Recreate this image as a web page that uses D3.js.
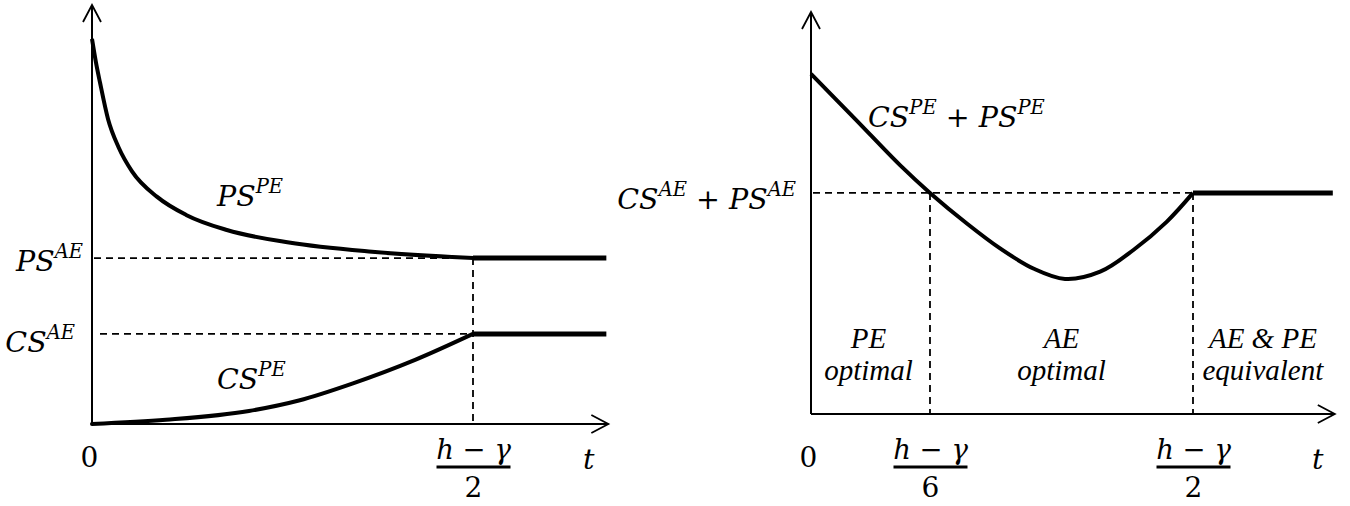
<!DOCTYPE html>
<html>
<head>
<meta charset="utf-8">
<script src="https://cdn.jsdelivr.net/npm/d3@7"></script>
<style>
  html, body { margin: 0; padding: 0; background: #fff; }
  svg { display: block; }
</style>
</head>
<body>
<svg id="chart" width="1350" height="506"></svg>
<script>
// ---- Left panel: producer surplus (PS) and consumer surplus (CS) under PE, vs. t
// t measured in units of (h - γ)/2; surplus in arbitrary units (0-100)
const tPS  = [0, 0.010, 0.021, 0.042, 0.070, 0.105, 0.171, 0.247, 0.354, 0.517, 0.735, 1.0];
const psPE = [91.9, 86.5, 81.5, 72.8, 66.0, 60.3, 54.2, 49.9, 46.3, 43.3, 41.1, 39.6];
const tCS  = [0, 0.194, 0.412, 0.543, 0.685, 0.848, 1.0];
const csPE = [0, 1.0, 3.1, 5.6, 9.7, 15.3, 21.5];
const psAE = 39.6;
const csAE = 21.5;
const tMaxLeft = 1.35;
const leftTicks = [
  { t: 0, label: "0" },
  { t: 1, num: "h − γ", den: "2" }
];

// ---- Right panel: total surplus CS + PS under PE vs. the AE level
const tSum  = [0, 0.1165, 0.233, 0.3115, 0.408, 0.495, 0.582, 0.665, 0.757, 0.844, 0.931, 1.0];
const sumPE = [84.6, 73.3, 61.9, 55.0, 47.4, 41.2, 36.2, 33.6, 35.4, 40.8, 47.8, 55.0];
const sumAE = 55.0;
const tMaxRight = 1.366;
const rightTicks = [
  { t: 0, label: "0" },
  { t: 0.3115, num: "h − γ", den: "6" },
  { t: 1, num: "h − γ", den: "2" }
];
const regions = [
  { from: 0, to: 0.3115, lines: ["PE", "optimal"] },
  { from: 0.3115, to: 1, lines: ["AE", "optimal"] },
  { from: 1, to: tMaxRight, lines: ["AE & PE", "equivalent"] }
];

const MATH = "'DejaVu Serif', serif";
const PROSE = "'Liberation Serif', 'Times New Roman', serif";
const svg = d3.select("#chart");

// scales
const xL = d3.scaleLinear().domain([0, 1]).range([92, 473]);
const yL = d3.scaleLinear().domain([0, 100]).range([424, 5]);
const xR = d3.scaleLinear().domain([0, 1]).range([811, 1193]);
const yR = d3.scaleLinear().domain([0, 100]).range([414, 12]);

// math label with superscripts; parts: [text, kind] where kind is "sup", "op" or undefined
function mathLabel(g, x, y, parts, opts = {}) {
  const size = opts.size || 28.5;
  const supSize = opts.supSize || 19.5;
  const rise = 13;
  const text = g.append("text")
    .attr("x", x).attr("y", y)
    .attr("font-family", MATH)
    .attr("font-size", size)
    .attr("text-anchor", opts.anchor || "start")
    .attr("fill", "#000");
  let raised = false;
  parts.forEach(([s, kind]) => {
    const ts = text.append("tspan").text(s);
    if (kind === "sup") {
      ts.attr("dy", raised ? 0 : -rise).attr("font-size", supSize).attr("font-style", "italic");
      raised = true;
    } else {
      ts.attr("dy", raised ? rise : 0).attr("font-style", kind === "op" ? "normal" : "italic");
      raised = false;
    }
  });
  return text;
}

function arrowAxes(g, x0, x1, y0, y1) {
  const stroke = "#000";
  g.append("line").attr("x1", x0).attr("y1", y0).attr("x2", x0).attr("y2", y1)
    .attr("stroke", stroke).attr("stroke-width", 2);
  g.append("line").attr("x1", x0).attr("y1", y0).attr("x2", x1).attr("y2", y0)
    .attr("stroke", stroke).attr("stroke-width", 2);
  g.append("path")
    .attr("d", `M${x0 - 9},${y1 + 17}L${x0},${y1}L${x0 + 9},${y1 + 17}`)
    .attr("fill", "none").attr("stroke", stroke).attr("stroke-width", 1.8);
  g.append("path")
    .attr("d", `M${x1 - 17},${y0 - 9}L${x1},${y0}L${x1 - 17},${y0 + 9}`)
    .attr("fill", "none").attr("stroke", stroke).attr("stroke-width", 1.8);
}

function dashed(g, x1, y1, x2, y2) {
  g.append("line")
    .attr("x1", x1).attr("y1", y1).attr("x2", x2).attr("y2", y2)
    .attr("stroke", "#000").attr("stroke-width", 1.8)
    .attr("stroke-dasharray", "7,5");
}

// tick labels on the time axis, drawn through d3.axisBottom
function timeAxis(g, x, axisY, ticks) {
  const ax = d3.axisBottom(x)
    .tickValues(ticks.map(d => d.t))
    .tickSize(0)
    .tickFormat("");
  const ag = g.append("g").attr("transform", `translate(0,${axisY})`).call(ax);
  ag.select(".domain").remove();
  ag.selectAll(".tick").each(function (v, i) {
    const d = ticks[i];
    const tg = d3.select(this);
    if (d.label) {
      tg.append("text")
        .attr("x", -3).attr("y", 467 - axisY)
        .attr("text-anchor", "middle")
        .attr("font-family", MATH).attr("font-size", 28)
        .attr("fill", "#000")
        .text(d.label);
    } else {
      const [a, op, b] = d.num.split(" ");
      const num = tg.append("text")
        .attr("x", 0).attr("y", 459 - axisY)
        .attr("text-anchor", "middle")
        .attr("font-family", MATH).attr("font-size", 27.5)
        .attr("fill", "#000");
      num.append("tspan").attr("font-style", "italic").text(a);
      num.append("tspan").attr("font-style", "normal").text(" " + op + " ");
      num.append("tspan").attr("font-style", "italic").text(b);
      tg.append("line")
        .attr("x1", -37).attr("x2", 37)
        .attr("y1", 467 - axisY).attr("y2", 467 - axisY)
        .attr("stroke", "#000").attr("stroke-width", 2.8);
      tg.append("text")
        .attr("x", 0).attr("y", 497 - axisY)
        .attr("text-anchor", "middle")
        .attr("font-family", MATH).attr("font-size", 28)
        .attr("fill", "#000")
        .text(d.den);
    }
  });
}

// ================= Left panel =================
const gl = svg.append("g");
arrowAxes(gl, xL(0), xL(tMaxLeft) + 2, yL(0), yL(100));

// reference levels
dashed(gl, xL(0) + 2, yL(psAE), xL(1), yL(psAE));
dashed(gl, xL(0) + 8, yL(csAE), xL(1), yL(csAE));
dashed(gl, xL(1), yL(psAE), xL(1), yL(0));

const lineL = d3.line().x(d => xL(d[0])).y(d => yL(d[1])).curve(d3.curveMonotoneX);
gl.append("path")
  .attr("d", lineL(d3.zip(tPS, psPE)))
  .attr("fill", "none").attr("stroke", "#000").attr("stroke-width", 4);
gl.append("path")
  .attr("d", lineL(d3.zip(tCS, csPE)))
  .attr("fill", "none").attr("stroke", "#000").attr("stroke-width", 4)
  .attr("stroke-linecap", "round");
// flat segments after (h - γ)/2
gl.append("line")
  .attr("x1", xL(1)).attr("x2", xL(tMaxLeft))
  .attr("y1", yL(psAE)).attr("y2", yL(psAE))
  .attr("stroke", "#000").attr("stroke-width", 5);
gl.append("line")
  .attr("x1", xL(1)).attr("x2", xL(tMaxLeft))
  .attr("y1", yL(csAE)).attr("y2", yL(csAE))
  .attr("stroke", "#000").attr("stroke-width", 5);

mathLabel(gl, 217, 206, [["PS"], ["PE", "sup"]]);
mathLabel(gl, 217, 389, [["CS"], ["PE", "sup"]]);
mathLabel(gl, 83, 271, [["PS"], ["AE", "sup"]], { anchor: "end" });
mathLabel(gl, 75, 352, [["CS"], ["AE", "sup"]], { anchor: "end" });
mathLabel(gl, 583, 469, [["t"]]);
timeAxis(gl, xL, yL(0), leftTicks);

// ================= Right panel =================
const gr = svg.append("g");
arrowAxes(gr, xR(0), xR(tMaxRight) + 2, yR(0), yR(100));

dashed(gr, xR(0) + 2, yR(sumAE), xR(1), yR(sumAE));
rightTicks.filter(d => d.t > 0).forEach(d => {
  dashed(gr, xR(d.t), yR(sumAE), xR(d.t), yR(0));
});

const lineR = d3.line().x(d => xR(d[0])).y(d => yR(d[1])).curve(d3.curveCatmullRom.alpha(0.5));
gr.append("path")
  .attr("d", lineR(d3.zip(tSum, sumPE)))
  .attr("fill", "none").attr("stroke", "#000").attr("stroke-width", 4);
gr.append("line")
  .attr("x1", xR(1)).attr("x2", xR(tMaxRight))
  .attr("y1", yR(sumAE)).attr("y2", yR(sumAE))
  .attr("stroke", "#000").attr("stroke-width", 5);

mathLabel(gr, 868, 127, [["CS"], ["PE", "sup"], [" + ", "op"], ["PS"], ["PE", "sup"]]);
mathLabel(gr, 796, 209, [["CS"], ["AE", "sup"], [" + ", "op"], ["PS"], ["AE", "sup"]], { anchor: "end" });
mathLabel(gr, 1312, 469, [["t"]]);
timeAxis(gr, xR, yR(0), rightTicks);

// region captions
regions.forEach(r => {
  const cx = (xR(r.from) + xR(r.to)) / 2 + (r.from === 0 ? -2 : 0);
  const t = gr.append("text")
    .attr("text-anchor", "middle")
    .attr("font-family", PROSE)
    .attr("font-style", "italic")
    .attr("font-size", 29)
    .attr("fill", "#000");
  r.lines.forEach((s, i) => {
    t.append("tspan").attr("x", cx).attr("y", 348 + i * 32).text(s);
  });
});
</script>
</body>
</html>
